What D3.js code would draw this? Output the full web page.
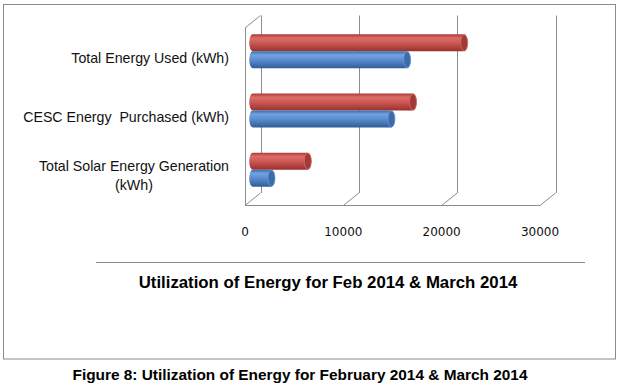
<!DOCTYPE html>
<html>
<head>
<meta charset="utf-8">
<script src="https://cdn.jsdelivr.net/npm/d3@7"></script>
<style>
  html, body { margin: 0; padding: 0; background: #fff; }
  #chart { width: 618px; height: 389px; }
  .cat-label { font-family: "Liberation Sans", Arial, sans-serif; font-size: 14.2px; fill: #111; white-space: pre; }
  .tick-label { font-family: "DejaVu Sans", Verdana, sans-serif; font-size: 12px; fill: #111; }
  .chart-title { font-family: "Liberation Sans", Arial, sans-serif; font-size: 16.8px; font-weight: bold; fill: #000; }
  .fig-caption { font-family: "Liberation Sans", Arial, sans-serif; font-size: 15.4px; font-weight: bold; fill: #000; }
</style>
</head>
<body>
<div id="chart"></div>
<script>
// categories listed top to bottom as they appear
var categories = [
  "Total Energy Used (kWh)",
  "CESC Energy  Purchased (kWh)",
  "Total Solar Energy Generation (kWh)"
];
var categoryLines = [
  ["Total Energy Used (kWh)"],
  ["CESC Energy  Purchased (kWh)"],
  ["Total Solar Energy Generation", "(kWh)"]
];
var feb2014 = [15700, 14100, 1900];    // blue
var march2014 = [21500, 16300, 5600];  // red
var xTicks = [0, 10000, 20000, 30000];
var chartTitle = "Utilization of Energy for Feb 2014 & March 2014";
var figureCaption = "Figure 8: Utilization of Energy for February 2014 & March 2014";

class EnergyBarChart {
  constructor(parentElement) {
    this.parentElement = parentElement;
  }

  initVis() {
    let vis = this;

    vis.width = 618;
    vis.height = 389;

    vis.svg = d3
      .select("#" + vis.parentElement)
      .append("svg")
      .attr("width", vis.width)
      .attr("height", vis.height);

    // gradients for the cylinder look
    var defs = vis.svg.append("defs");
    vis.addGradient(defs, "grad-red", ["#a83a37", "#dd6c68", "#cc5955", "#9a302d"]);
    vis.addGradient(defs, "grad-blue", ["#3b6cab", "#72a3df", "#5b8dcf", "#2f5d97"]);

    // outer chart box
    vis.svg
      .append("rect")
      .attr("x", 3.5)
      .attr("y", 4.5)
      .attr("width", 612)
      .attr("height", 354.5)
      .attr("fill", "none")
      .attr("stroke", "#8a8a8a");

    vis.top = 28;
    vis.bottom = 205.5;
    vis.dx = 15.5;
    vis.dy = -12.5;

    vis.x = d3.scaleLinear().domain([0, 30000]).range([245, 540]);
    vis.y = d3.scaleBand().domain(categories).range([vis.top, vis.bottom]);

    vis.drawWalls();
    vis.drawBars();
    vis.drawLabels();
  }

  addGradient(defs, id, colors) {
    var g = defs
      .append("linearGradient")
      .attr("id", id)
      .attr("x1", 0)
      .attr("y1", 0)
      .attr("x2", 0)
      .attr("y2", 1);
    var offsets = [0, 0.22, 0.5, 1];
    for (var i = 0; i < colors.length; i++) {
      g.append("stop").attr("offset", offsets[i]).attr("stop-color", colors[i]);
    }
  }

  drawWalls() {
    let vis = this;
    var grid = vis.svg.append("g").attr("stroke", "#8c8c8c").attr("fill", "none");

    // back wall gridlines
    grid
      .selectAll(".back-grid")
      .data(xTicks)
      .enter()
      .append("line")
      .attr("x1", function (d) { return Math.round(vis.x(d) + vis.dx) + 0.5; })
      .attr("x2", function (d) { return Math.round(vis.x(d) + vis.dx) + 0.5; })
      .attr("y1", vis.top + vis.dy)
      .attr("y2", vis.bottom + vis.dy);

    // floor diagonals
    grid
      .selectAll(".floor-diag")
      .data(xTicks)
      .enter()
      .append("line")
      .attr("x1", function (d) { return vis.x(d); })
      .attr("y1", vis.bottom)
      .attr("x2", function (d) { return vis.x(d) + vis.dx; })
      .attr("y2", vis.bottom + vis.dy);

    // floor front edge
    grid
      .append("line")
      .attr("x1", vis.x(0))
      .attr("x2", vis.x(30000))
      .attr("y1", vis.bottom)
      .attr("y2", vis.bottom);

    // left wall front edge and top
    grid
      .append("line")
      .attr("x1", Math.round(vis.x(0)) + 0.5)
      .attr("x2", Math.round(vis.x(0)) + 0.5)
      .attr("y1", vis.top)
      .attr("y2", vis.bottom);
    grid
      .append("line")
      .attr("x1", vis.x(0))
      .attr("y1", vis.top)
      .attr("x2", vis.x(0) + vis.dx)
      .attr("y2", vis.top + vis.dy);
  }

  drawBars() {
    let vis = this;
    var barH = 17;
    var rx = 3.5;
    var ry = barH / 2;
    var rows = [];

    for (var i = 0; i < categories.length; i++) {
      var yc = vis.y(categories[i]) + vis.y.bandwidth() / 2 + vis.dy / 2;
      rows.push({ value: march2014[i], top: yc - barH, grad: "grad-red", cap: "#a23b38", rim: "#d46a66" });
      rows.push({ value: feb2014[i], top: yc, grad: "grad-blue", cap: "#3c6ca8", rim: "#6a9bd8" });
    }

    var bars = vis.svg
      .append("g")
      .selectAll("g")
      .data(rows)
      .enter()
      .append("g");

    bars
      .append("path")
      .attr("fill", function (d) { return "url(#" + d.grad + ")"; })
      .attr("d", function (d) {
        var x0 = vis.x(0) + vis.dx / 2;
        var x1 = vis.x(d.value) + vis.dx / 2;
        var b = d.top + barH;
        return "M" + x0 + "," + d.top +
          "L" + x1 + "," + d.top +
          "A" + rx + "," + ry + " 0 0 1 " + x1 + "," + b +
          "L" + x0 + "," + b +
          "A" + rx + "," + ry + " 0 0 1 " + x0 + "," + d.top + "Z";
      });

    bars
      .append("ellipse")
      .attr("cx", function (d) { return vis.x(d.value) + vis.dx / 2; })
      .attr("cy", function (d) { return d.top + ry; })
      .attr("rx", rx)
      .attr("ry", ry - 0.5)
      .attr("fill", function (d) { return d.cap; })
      .attr("stroke", function (d) { return d.rim; })
      .attr("stroke-width", 0.8);
  }

  drawLabels() {
    let vis = this;
    var rightEdge = 229;

    // category labels
    for (var i = 0; i < categories.length; i++) {
      var lines = categoryLines[i];
      var yc = vis.y(categories[i]) + vis.y.bandwidth() / 2;
      var lineH = 19;
      var y0 = yc - ((lines.length - 1) * lineH) / 2;
      var g = vis.svg.append("g");
      var texts = [];
      var maxW = 0;
      for (var j = 0; j < lines.length; j++) {
        var t = g
          .append("text")
          .attr("class", "cat-label")
          .attr("y", y0 + j * lineH + 5)
          .text(lines[j]);
        texts.push(t);
        maxW = Math.max(maxW, t.node().getComputedTextLength());
      }
      for (var k = 0; k < texts.length; k++) {
        texts[k].attr("x", rightEdge - maxW / 2).attr("text-anchor", "middle");
      }
    }

    // value axis labels
    vis.svg
      .selectAll(".tick-label")
      .data(xTicks)
      .enter()
      .append("text")
      .attr("class", "tick-label")
      .attr("x", function (d) { return vis.x(d); })
      .attr("y", 235.5)
      .attr("text-anchor", "middle")
      .text(function (d) { return d; });

    // separator line above the title
    vis.svg
      .append("line")
      .attr("x1", 96)
      .attr("x2", 585)
      .attr("y1", 262.5)
      .attr("y2", 262.5)
      .attr("stroke", "#8c8c8c");

    vis.svg
      .append("text")
      .attr("class", "chart-title")
      .attr("x", 328)
      .attr("y", 288)
      .attr("text-anchor", "middle")
      .text(chartTitle);

    vis.svg
      .append("text")
      .attr("class", "fig-caption")
      .attr("x", 300)
      .attr("y", 379.5)
      .attr("text-anchor", "middle")
      .text(figureCaption);
  }
}

var chart = new EnergyBarChart("chart");
chart.initVis();
</script>
</body>
</html>
